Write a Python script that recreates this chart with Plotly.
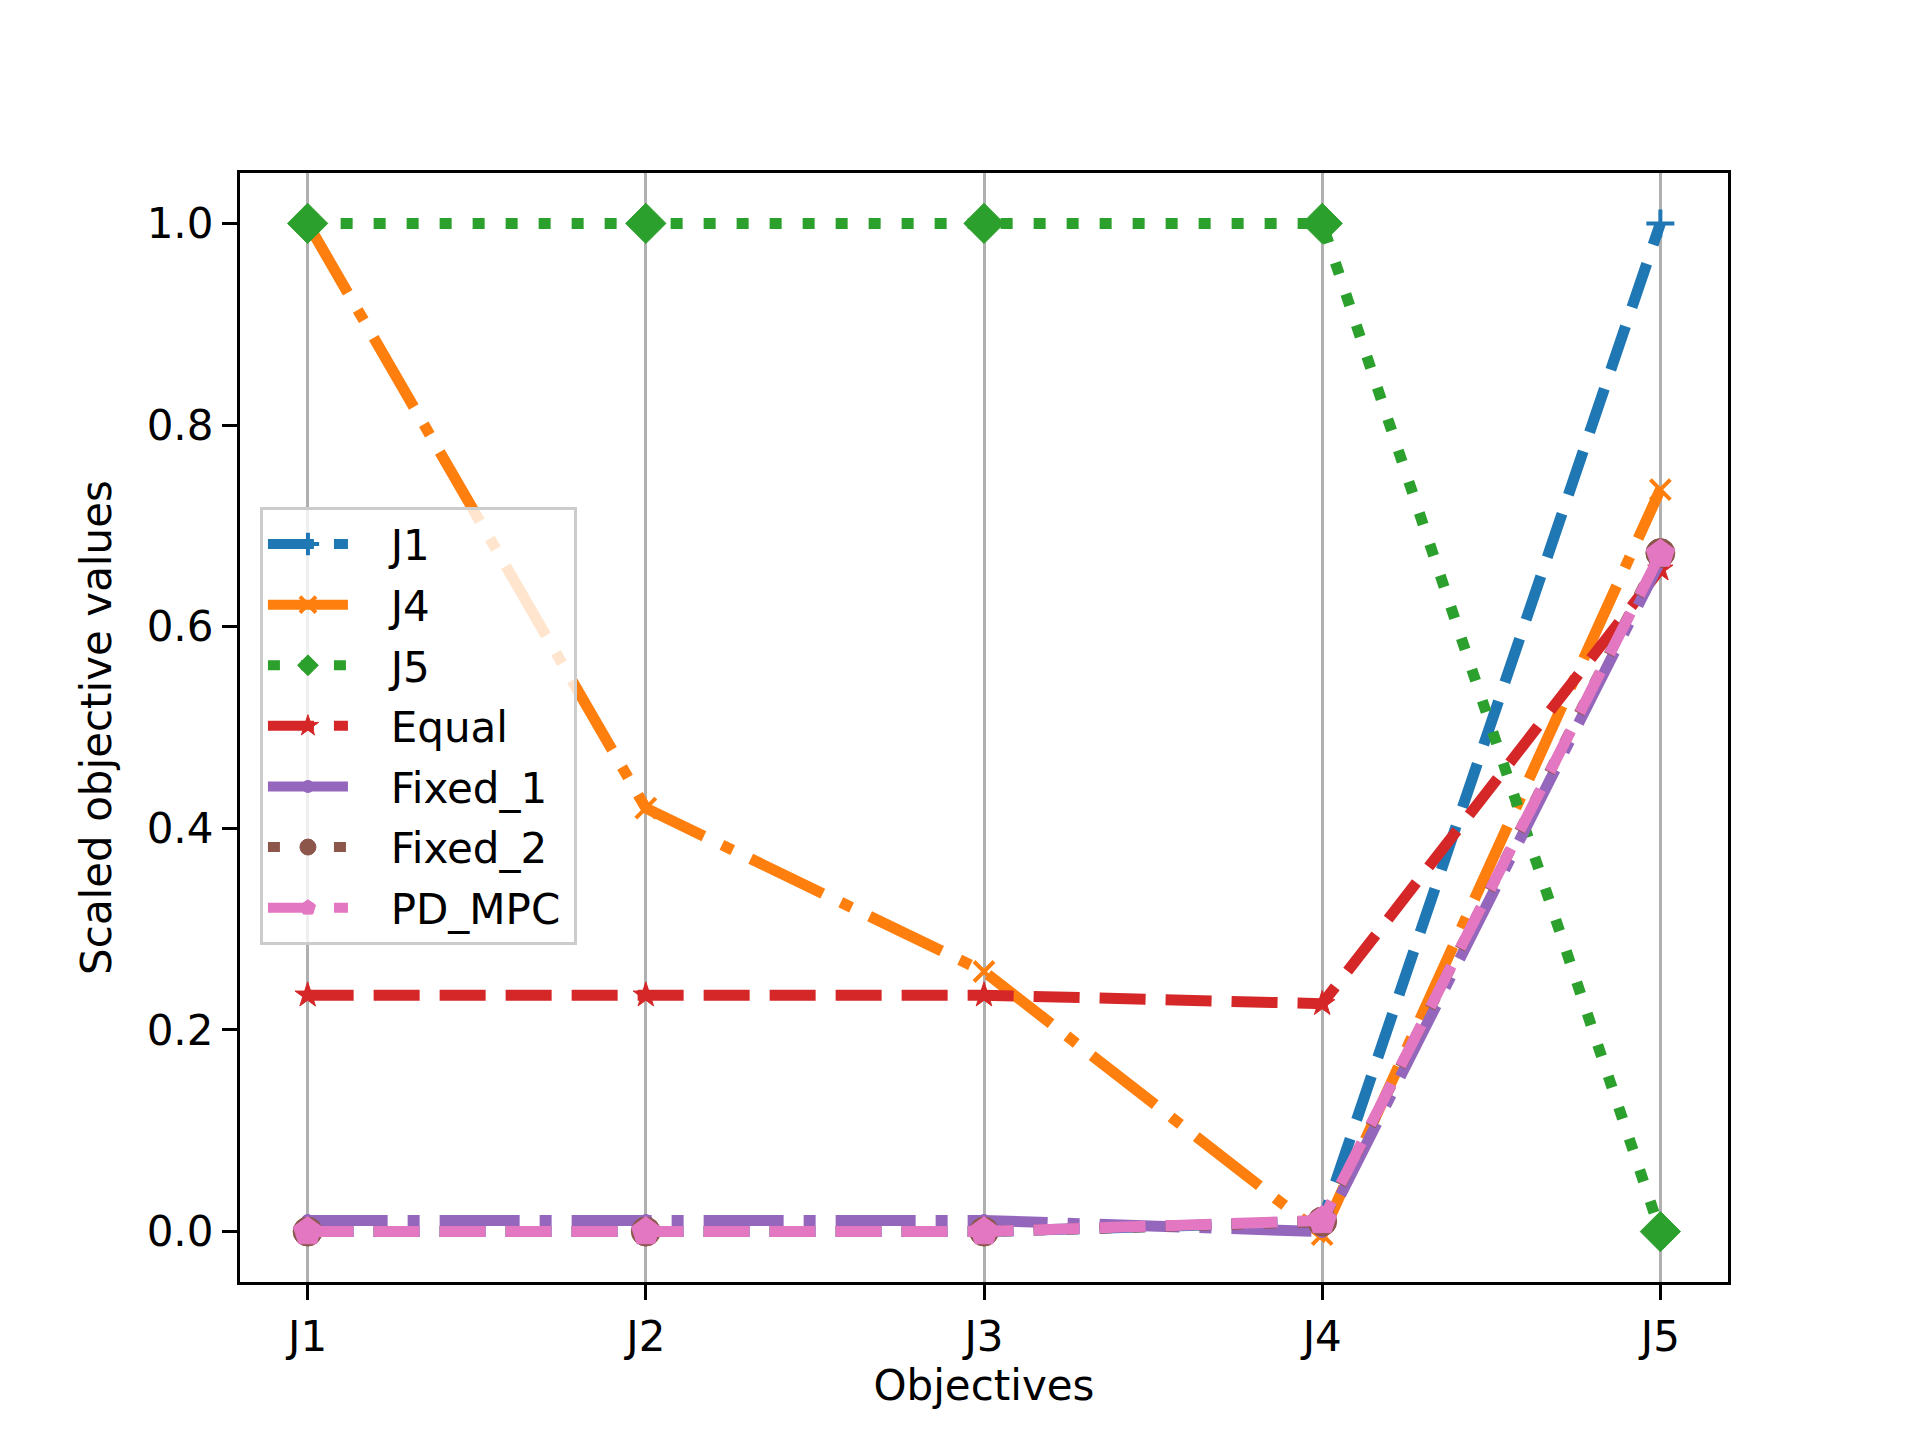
import plotly.graph_objects as go

objectives = ["J1", "J2", "J3", "J4", "J5"]

series_names = ["J1", "J4", "J5", "Equal", "Fixed_1", "Fixed_2", "PD_MPC"]
vals_J1 = [0.0, 0.0, 0.0, 0.01, 1.0]
vals_J4 = [1.0, 0.42, 0.258, -0.003, 0.736]
vals_J5 = [1.0, 1.0, 1.0, 1.0, 0.0]
vals_Equal = [0.2345, 0.2345, 0.2345, 0.226, 0.657]
vals_Fixed_1 = [0.011, 0.011, 0.011, 0.0, 0.665]
vals_Fixed_2 = [0.0, 0.0, 0.0, 0.01, 0.673]
vals_PD_MPC = [0.0, 0.0, 0.0, 0.011, 0.672]

y_ticks = [0.0, 0.2, 0.4, 0.6, 0.8, 1.0]

colors = ["#1f77b4", "#ff7f0e", "#2ca02c", "#d62728", "#9467bd", "#8c564b", "#e377c2"]
DASHED = "46px,20px"
DASHDOT = "80px,20px,12px,20px"
DOTTED = "12px,21px"
styles = [
    dict(dash=DASHED, symbol="cross-thin", size=20, lw=4),
    dict(dash=DASHDOT, symbol="x-thin", size=20, lw=4),
    dict(dash=DOTTED, symbol="diamond", size=31, lw=1),
    dict(dash=DASHED, symbol="star", size=19, lw=1),
    dict(dash=DASHDOT, symbol="circle", size=12, lw=1),
    dict(dash=DOTTED, symbol="circle", size=29, lw=1),
    dict(dash=DASHED, symbol="pentagon", size=30, lw=1),
]
all_vals = [vals_J1, vals_J4, vals_J5, vals_Equal, vals_Fixed_1, vals_Fixed_2, vals_PD_MPC]

# small spacers around legend labels (matplotlib's handletextpad / borderpad)
PAD_L = "\u2002\u2009\u200a\u200a"
PAD_R = "\u2009"

fig = go.Figure()
for name, vals, col, st in zip(series_names, all_vals, colors, styles):
    fig.add_trace(go.Scatter(
        x=objectives, y=vals, name=PAD_L + name + PAD_R, legendgroup=name,
        mode="lines+markers",
        line=dict(color=col, width=11, dash=st["dash"]),
        marker=dict(symbol=st["symbol"], size=st["size"], color=col,
                    line=dict(color=col, width=st["lw"])),
    ))

font_px = 42
fig.update_layout(
    width=1904, height=1424,
    margin=dict(l=232, r=184, t=165, b=150),
    paper_bgcolor="white", plot_bgcolor="white",
    font=dict(family="DejaVu Sans", size=font_px, color="black"),
    showlegend=True,
    legend=dict(
        x=0.0134, y=0.6986, xanchor="left", yanchor="top",
        bgcolor="rgba(255,255,255,0.8)", bordercolor="#cccccc", borderwidth=3,
        font=dict(family="DejaVu Sans", size=font_px, color="black"),
        itemwidth=80, tracegroupgap=3,
    ),
    xaxis=dict(
        type="category", categoryorder="array", categoryarray=objectives,
        range=[-0.2, 4.2],
        showgrid=True, gridcolor="#b0b0b0", gridwidth=3.3,
        showline=True, linecolor="black", linewidth=3.3, mirror=True,
        ticks="outside", ticklen=15, tickwidth=3.3, tickcolor="black",
        tickfont=dict(size=font_px),
        title=dict(text="Objectives", font=dict(size=font_px), standoff=10),
        zeroline=False,
    ),
    yaxis=dict(
        range=[-0.05, 1.05], tickvals=y_ticks, tickformat=".1f",
        showgrid=False,
        showline=True, linecolor="black", linewidth=3.3, mirror=True,
        ticks="outside", ticklen=15, tickwidth=3.3, tickcolor="black",
        tickfont=dict(size=font_px),
        title=dict(text="Scaled objective values", font=dict(size=font_px), standoff=22),
        zeroline=False,
    ),
)

fig.write_html("out.html")
